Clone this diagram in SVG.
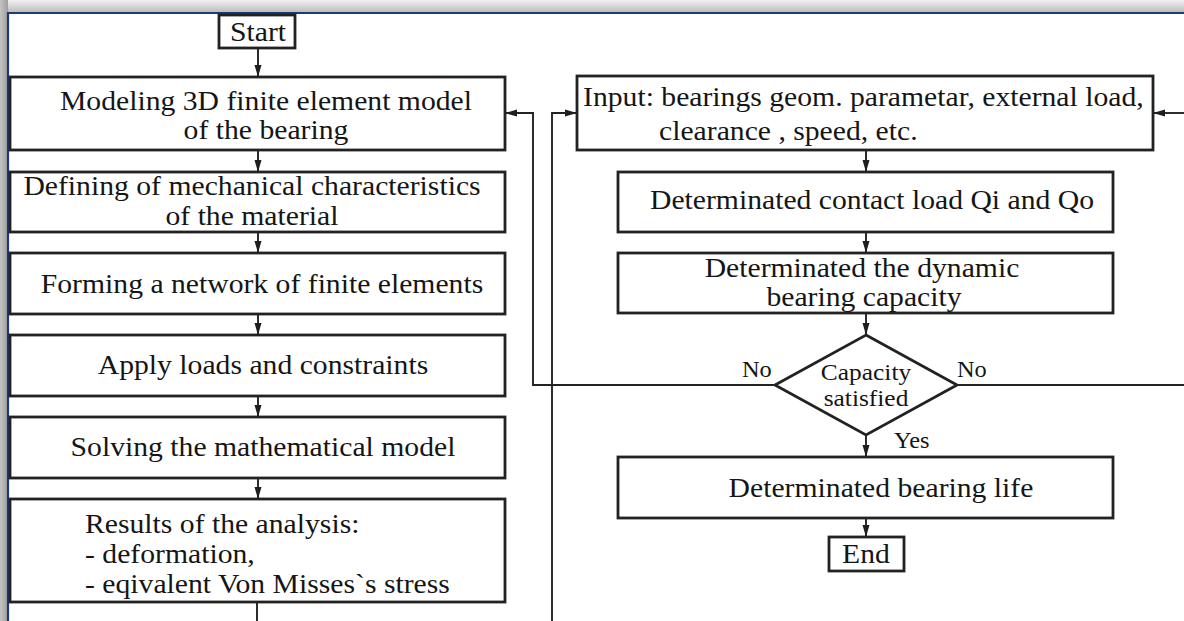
<svg xmlns="http://www.w3.org/2000/svg" width="1184" height="621" viewBox="0 0 1184 621">
<defs>
<linearGradient id="gTop" x1="0" y1="0" x2="0" y2="1">
<stop offset="0" stop-color="#f2f2f2"/>
<stop offset="1" stop-color="#bdbdbd"/>
</linearGradient>
<linearGradient id="gLeft" x1="0" y1="0" x2="1" y2="0">
<stop offset="0" stop-color="#c4c4c4"/>
<stop offset="1" stop-color="#9e9e9e"/>
</linearGradient>
<marker id="ah" markerUnits="userSpaceOnUse" markerWidth="12" markerHeight="8" refX="12" refY="4" orient="auto">
<path d="M0,0.5 L12,4 L0,7.5 z" fill="#1e1e1e"/>
</marker>
<style>
.box{fill:#fff;stroke:#222;stroke-width:2.8}
.c{fill:none;stroke:#222;stroke-width:1.9}
.t{font-family:"Liberation Serif","Times New Roman",serif;font-size:28px;fill:#151515}
.m{text-anchor:middle}
.s{font-size:24px}
.l{font-size:23px}
</style>
</defs>
<rect x="0" y="0" width="1184" height="621" fill="#fff"/>
<rect x="0" y="0" width="1184" height="12" fill="url(#gTop)"/>
<rect x="0" y="0" width="8" height="621" fill="url(#gLeft)"/>
<path d="M8,621 V13 H1184" fill="none" stroke="#1c3a74" stroke-width="2.2"/>

<g id="connectors">
<path class="c" d="M258,48 V77" marker-end="url(#ah)"/>
<path class="c" d="M258,150 V172" marker-end="url(#ah)"/>
<path class="c" d="M258,232 V253" marker-end="url(#ah)"/>
<path class="c" d="M258,314 V335" marker-end="url(#ah)"/>
<path class="c" d="M258,396 V417" marker-end="url(#ah)"/>
<path class="c" d="M258,478 V499" marker-end="url(#ah)"/>
<path class="c" d="M257,602 V621"/>
<path class="c" d="M775,385 H533 V113 H505" marker-end="url(#ah)"/>
<path class="c" d="M552,621 V113 H577" marker-end="url(#ah)"/>
<path class="c" d="M957,385 H1184"/>
<path class="c" d="M1184,113 H1153" marker-end="url(#ah)"/>
<path class="c" d="M866,150 V172" marker-end="url(#ah)"/>
<path class="c" d="M866,232 V253" marker-end="url(#ah)"/>
<path class="c" d="M866,313 V335" marker-end="url(#ah)"/>
<path class="c" d="M866,435 V457" marker-end="url(#ah)"/>
<path class="c" d="M866,518 V537" marker-end="url(#ah)"/>
</g>

<g id="start">
<rect class="box" x="219" y="15" width="76" height="33"/>
<text class="t m" transform="translate(258 41) scale(1.06 1)">Start</text>
</g>
<g id="model">
<rect class="box" x="10" y="77" width="495" height="73"/>
<text class="t m" transform="translate(266 110) scale(1.06 1)">Modeling 3D finite element model</text>
<text class="t m" transform="translate(266 139) scale(1.06 1)">of the bearing</text>
</g>
<g id="material">
<rect class="box" x="10" y="172" width="495" height="60"/>
<text class="t m" transform="translate(252 195) scale(1.06 1)">Defining of mechanical characteristics</text>
<text class="t m" transform="translate(252 225) scale(1.06 1)">of the material</text>
</g>
<g id="mesh">
<rect class="box" x="10" y="253" width="495" height="61"/>
<text class="t m" transform="translate(262 293) scale(1.06 1)">Forming a network of finite elements</text>
</g>
<g id="loads">
<rect class="box" x="10" y="335" width="495" height="61"/>
<text class="t m" transform="translate(263 374) scale(1.06 1)">Apply loads and constraints</text>
</g>
<g id="solve">
<rect class="box" x="10" y="417" width="495" height="61"/>
<text class="t m" transform="translate(263 456) scale(1.06 1)">Solving the mathematical model</text>
</g>
<g id="results">
<rect class="box" x="10" y="499" width="495" height="103"/>
<text class="t" transform="translate(85 533) scale(1.06 1)">Results of the analysis:</text>
<text class="t" transform="translate(85 563) scale(1.06 1)">- deformation,</text>
<text class="t" transform="translate(85 593) scale(1.06 1)">- eqivalent Von Misses`s stress</text>
</g>

<g id="input">
<rect class="box" x="577" y="76" width="576" height="74"/>
<text class="t" transform="translate(583 106) scale(1.06 1)">Input: bearings geom. parametar, external load,</text>
<text class="t" transform="translate(659 140) scale(1.06 1)">clearance , speed, etc.</text>
</g>
<g id="contact">
<rect class="box" x="618" y="172" width="495" height="60"/>
<text class="t m" transform="translate(872 209) scale(1.06 1)">Determinated contact load Qi and Qo</text>
</g>
<g id="capacity">
<rect class="box" x="618" y="253" width="495" height="60"/>
<text class="t m" transform="translate(862 277) scale(1.06 1)">Determinated the dynamic</text>
<text class="t m" transform="translate(864 306) scale(1.06 1)">bearing capacity</text>
</g>
<g id="decision">
<polygon class="box" points="866,335 957,385 866,435 775,385"/>
<text class="t s m" transform="translate(866 380) scale(1.06 1)">Capacity</text>
<text class="t s m" transform="translate(866 406) scale(1.06 1)">satisfied</text>
<text class="t l" transform="translate(742 377) scale(1.06 1)">No</text>
<text class="t l" transform="translate(957 377) scale(1.06 1)">No</text>
<text class="t l" transform="translate(894 448) scale(1.06 1)">Yes</text>
</g>
<g id="life">
<rect class="box" x="618" y="457" width="495" height="61"/>
<text class="t m" transform="translate(881 497) scale(1.06 1)">Determinated bearing life</text>
</g>
<g id="end">
<rect class="box" x="829" y="537" width="75" height="34"/>
<text class="t m" transform="translate(866 563) scale(1.06 1)">End</text>
</g>
</svg>
